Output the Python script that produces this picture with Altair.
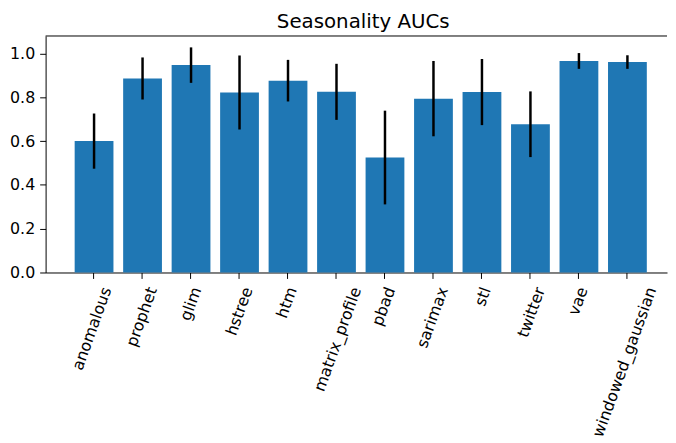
import altair as alt
import pandas as pd

models = ["anomalous", "prophet", "glim", "hstree", "htm", "matrix_profile",
          "pbad", "sarimax", "stl", "twitter", "vae", "windowed_gaussian"]
auc_mean = [0.600, 0.886, 0.947, 0.822, 0.876, 0.825, 0.525, 0.794, 0.824, 0.677, 0.966, 0.961]
auc_err = [0.126, 0.096, 0.081, 0.169, 0.095, 0.128, 0.214, 0.172, 0.151, 0.150, 0.036, 0.031]
y_ticks = [0.0, 0.2, 0.4, 0.6, 0.8, 1.0]

df = pd.DataFrame({"model": models, "auc": auc_mean, "err": auc_err})

W, H = 628, 239
FONT = "DejaVu Sans"

x_enc = alt.X(
    "model:N", sort=models, title=None,
    scale=alt.Scale(paddingInner=0.2, paddingOuter=0.508, align=0.59),
    axis=alt.Axis(
        labelAngle=290, labelAlign="right", labelBaseline="middle",
        labelFont=FONT, labelFontSize=16, labelColor="#000",
        labelOffset=alt.ExprRef("length(datum.label) * 1.45"),
        labelPadding=9, labelOverlap=False,
        tickSize=6, tickColor="#000", tickWidth=1,
        domainColor="#000", domainWidth=1, grid=False,
    ),
)

y_scale = alt.Scale(domain=[0, 1.08], nice=False, zero=True)
y_axis = alt.Axis(
    values=y_ticks, format=".1f", labelFont=FONT, labelFontSize=16, labelColor="#000",
    labelPadding=5, tickSize=6, tickColor="#000", tickWidth=1,
    domainColor="#000", domainWidth=1, grid=False,
)

base = alt.Chart(df)

bars = base.mark_bar(color="#1f77b4").encode(
    x=x_enc,
    y=alt.Y("auc:Q", scale=y_scale, axis=y_axis, title=None),
)

errs = base.transform_calculate(
    lo="datum.auc - datum.err", hi="datum.auc + datum.err"
).mark_rule(color="#000", strokeWidth=2.5).encode(
    x=alt.X("model:N", sort=models),
    y=alt.Y("lo:Q", scale=y_scale, title=None),
    y2="hi:Q",
)

top_spine = alt.Chart(pd.DataFrame({"k": [0]})).mark_rule(color="#000", strokeWidth=1).encode(
    x=alt.value(0), x2=alt.value(W), y=alt.value(0)
)

chart = alt.layer(bars, errs, top_spine).properties(
    width=W, height=H,
    title=alt.TitleParams("Seasonality AUCs", font=FONT, fontSize=20, fontWeight="normal",
                          color="#000", offset=4, anchor="middle", dx=7),
    padding={"left": 1, "top": 1, "right": 0, "bottom": 0},
).configure_view(strokeWidth=0)

chart.save("out.html", embed_options={"renderer": "svg", "actions": False})
